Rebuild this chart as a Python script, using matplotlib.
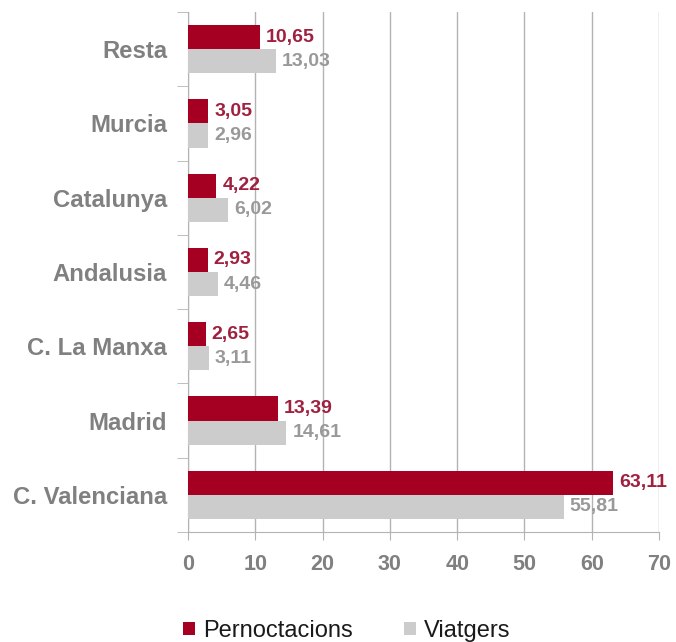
import matplotlib.pyplot as plt
import numpy as np

plt.rcParams['font.family'] = ['Liberation Sans', 'DejaVu Sans']

comunitats = ['Resta', 'Murcia', 'Catalunya', 'Andalusia', 'C. La Manxa', 'Madrid', 'C. Valenciana']
pernoctacions = [10.65, 3.05, 4.22, 2.93, 2.65, 13.39, 63.11]
viatgers = [13.03, 2.96, 6.02, 4.46, 3.11, 14.61, 55.81]

vermell = '#A50021'
gris = '#CCCCCC'
gris_text = '#808080'

fig = plt.figure(figsize=(6.76, 6.42), dpi=100)
ax = fig.add_axes([0.278, 0.1713, 0.697, 0.81])

y = np.arange(len(comunitats))
h = 0.325
ax.barh(y - h / 2, pernoctacions, height=h, color=vermell, label='Pernoctacions', zorder=3)
ax.barh(y + h / 2, viatgers, height=h, color=gris, label='Viatgers', zorder=3)

def etiqueta(v):
    return f'{v:.2f}'.replace('.', ',')

for i in range(len(comunitats)):
    ax.text(pernoctacions[i] + 0.9, y[i] - h / 2, etiqueta(pernoctacions[i]), va='center', ha='left',
            fontsize=14, fontweight='bold', color='#A0203F', zorder=4)
    ax.text(viatgers[i] + 0.9, y[i] + h / 2, etiqueta(viatgers[i]), va='center', ha='left',
            fontsize=14, fontweight='bold', color='#999999', zorder=4)

ax.set_xlim(0, 70)
ax.set_ylim(len(comunitats) - 0.5, -0.5)
ax.set_xticks(range(0, 71, 10))
ax.set_yticks(y)
ax.set_yticklabels(comunitats)
ax.set_yticks(np.arange(-0.5, len(comunitats)), minor=True)

ax.grid(axis='x', color='#B3B3B3', linewidth=1, zorder=0)
for s in ['top', 'right']:
    ax.spines[s].set_visible(False)
for s in ['left', 'bottom']:
    ax.spines[s].set_color('#B3B3B3')

ax.tick_params(axis='y', which='major', length=0, pad=15, labelsize=17.2, labelcolor=gris_text)
ax.tick_params(axis='y', which='minor', length=8, color='#B3B3B3')
ax.tick_params(axis='x', which='major', length=6, color='#B3B3B3', labelsize=15.5, labelcolor=gris_text, pad=10)
for lbl in ax.get_xticklabels() + ax.get_yticklabels():
    lbl.set_fontweight('bold')

fig.legend(loc='center', bbox_to_anchor=(0.513, 0.017), ncol=2, frameon=False, fontsize=17,
           labelcolor='#1A1A1A', handlelength=0.5, handleheight=0.5, handletextpad=0.34,
           columnspacing=2.2, borderpad=0)

fig.savefig('out.png', dpi=100)
